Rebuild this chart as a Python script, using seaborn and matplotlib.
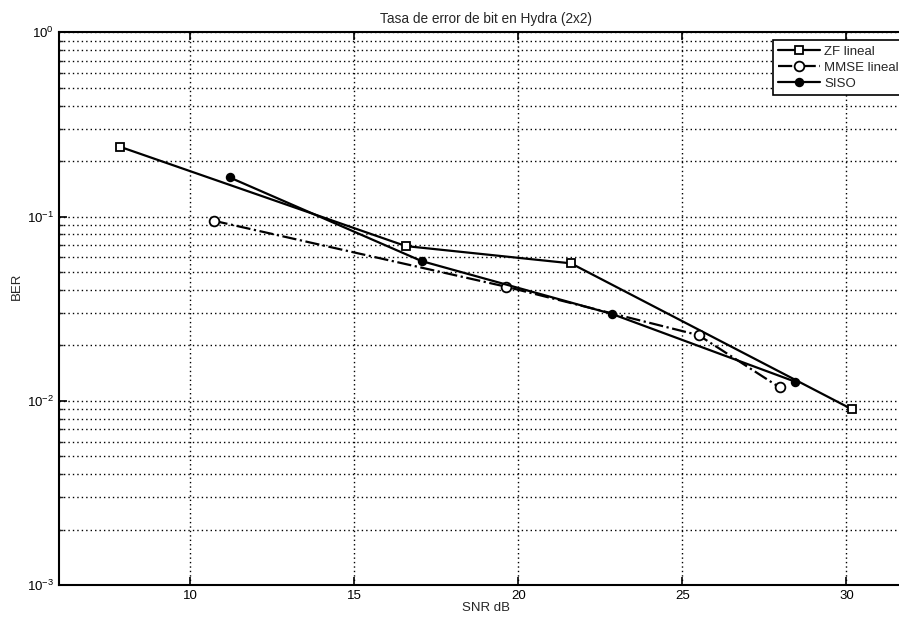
#!/usr/bin/env python3

'''
BER vs SNR for the Hydra 2x2 receivers (ZF, MMSE, SISO), semilog plot.
'''

import pandas as pd
import seaborn as sns
import matplotlib.pyplot as plt
from matplotlib.ticker import LogLocator, FixedLocator

# -------------------------------
# Data
# -------------------------------
zf_snr = [7.86, 16.57, 21.6, 30.17]
zf_ber = [0.239, 0.0691, 0.0557, 0.00898]

mmse_snr = [10.71, 19.62, 25.49, 27.96]
mmse_ber = [0.0949, 0.0416, 0.0227, 0.01182]

siso_snr = [11.2, 17.05, 22.85, 28.44]
siso_ber = [0.163, 0.0573, 0.0296, 0.01268]

series_names = ["ZF lineal", "MMSE lineal", "SISO"]
x_ticks = [10, 15, 20, 25, 30]

df = pd.concat([
    pd.DataFrame({"SNR": zf_snr, "BER": zf_ber, "serie": series_names[0]}),
    pd.DataFrame({"SNR": mmse_snr, "BER": mmse_ber, "serie": series_names[1]}),
    pd.DataFrame({"SNR": siso_snr, "BER": siso_ber, "serie": series_names[2]}),
])

# -------------------------------
# Style
# -------------------------------
sns.set_style("ticks")
plt.rcParams["font.family"] = ["Liberation Sans", "DejaVu Sans"]
plt.rcParams["mathtext.fontset"] = "custom"
plt.rcParams["mathtext.rm"] = "Liberation Sans"

fig = plt.figure(figsize=(8.99, 6.17), dpi=100)
ax = fig.add_axes([0.0656, 0.0519, 0.949, 0.8958])

styles = {
    "ZF lineal": dict(marker="s", linestyle="-", markerfacecolor="white", markersize=6),
    "MMSE lineal": dict(marker="o", linestyle="-.", markerfacecolor="white", markersize=7),
    "SISO": dict(marker="o", linestyle="-", markerfacecolor="black", markersize=5.5),
}

for name in series_names:
    sub = df[df["serie"] == name]
    st = styles[name]
    sns.lineplot(
        data=sub, x="SNR", y="BER", ax=ax, sort=False,
        color="black", linewidth=1.6, label=name,
        marker=st["marker"], linestyle=st["linestyle"],
        markersize=st["markersize"], markerfacecolor=st["markerfacecolor"],
        markeredgecolor="black", markeredgewidth=1.3,
    )

ax.set_yscale("log")
ax.set_xlim(6, 32)
ax.set_ylim(1e-3, 1)
ax.xaxis.set_major_locator(FixedLocator(x_ticks))
ax.yaxis.set_major_locator(LogLocator(base=10, numticks=10))
ax.yaxis.set_minor_locator(LogLocator(base=10, subs=range(2, 10), numticks=10))

# MATLAB-style dotted grid
grid_kw = dict(color="black", linestyle=(0, (1, 2.2)), linewidth=1.0)
ax.grid(True, which="major", axis="x", **grid_kw)
ax.grid(True, which="both", axis="y", **grid_kw)
ax.set_axisbelow(True)

for side in ["top", "right", "bottom", "left"]:
    ax.spines[side].set_visible(True)
    ax.spines[side].set_linewidth(1.5)
    ax.spines[side].set_color("black")

ax.tick_params(axis="both", which="major", direction="in", length=6, width=1.2,
               top=True, right=True, labelsize=9.5, colors="black")
ax.tick_params(axis="y", which="minor", direction="in", length=3, width=1,
               right=True)

ax.set_xlabel("SNR dB", fontsize=9.5)
ax.set_ylabel("BER", fontsize=9.5)
ax.xaxis.set_label_coords(0.5, -0.042)
ax.yaxis.set_label_coords(-0.049, 0.54)
ax.xaxis.label.set_va("center")
ax.yaxis.label.set_va("center")
ax.set_title("Tasa de error de bit en Hydra (2x2)", fontsize=9.8, pad=7)

leg = ax.legend(loc="upper right", fontsize=9.5, handlelength=3.2,
                frameon=True, fancybox=False, borderaxespad=0.6,
                labelspacing=0.3, borderpad=0.4, handletextpad=0.3)
leg.get_frame().set_edgecolor("black")
leg.get_frame().set_linewidth(1.2)
leg.get_frame().set_alpha(1)

plt.savefig("out.png", dpi=100)
